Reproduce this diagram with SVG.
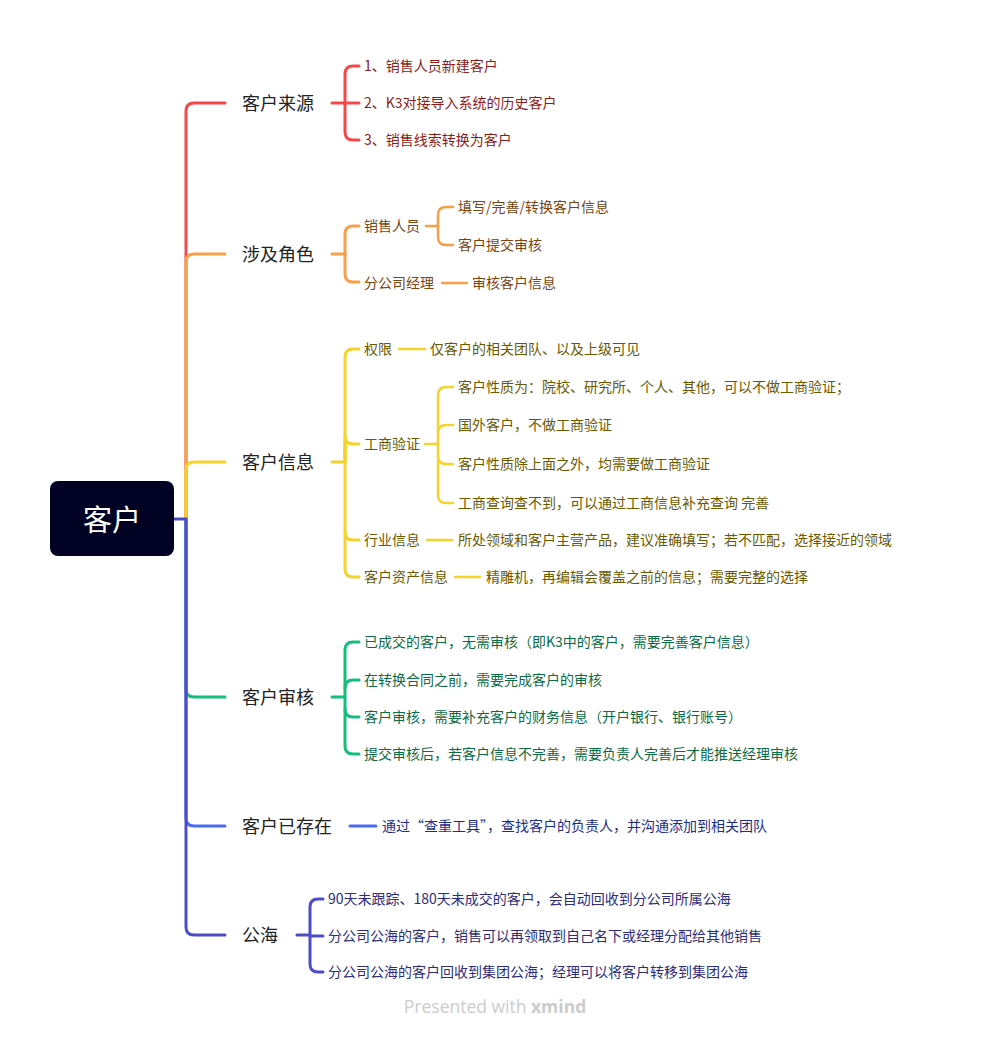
<svg xmlns="http://www.w3.org/2000/svg" width="990" height="1038" viewBox="0 0 990 1038">
<style>
text{font-family:"Noto Sans CJK SC","Liberation Sans",sans-serif;dominant-baseline:central}
.b{font-size:18px;fill:#222}
.s{font-size:14px}
.l{fill:none;stroke-width:3;stroke-linecap:round;stroke-linejoin:round}
.l2{fill:none;stroke-width:2.5;stroke-linecap:round;stroke-linejoin:round}
.red{stroke:#F5484A}.org{stroke:#F7A04A}.yel{stroke:#F5D22C}.grn{stroke:#14BE7C}.blu{stroke:#4A6CF4}.pur{stroke:#4D4DC6}
.tr{fill:#8A1C1C}.to{fill:#7A4511}.ty{fill:#6B5900}.tg{fill:#0B6B44}.tb{fill:#1B2D8A}.tp{fill:#2C2C7A}
</style>
<rect width="990" height="1038" fill="#fff"/>
<g id="connectors">
<path class="l red" d="M186,519 V111 Q186,103 194,103 H225"/>
<path class="l org" d="M186,519 V262 Q186,254 194,254 H225"/>
<path class="l yel" d="M186,519 V470 Q186,462 194,462 H225"/>
<path class="l grn" d="M186,519 V689 Q186,697 194,697 H225"/>
<path class="l blu" d="M186,519 V818 Q186,826 194,826 H225"/>
<path class="l pur" d="M174,519 H186 V927 Q186,935 194,935 H225"/>
<g class="l red">
<path d="M332,103 H345 V74 Q345,66 353,66 H359"/>
<path d="M345,103 H359"/>
<path d="M345,103 V132 Q345,140 353,140 H359"/>
</g>
<g class="l org">
<path d="M332,254 H345 V234 Q345,226 353,226 H359"/>
<path d="M345,254 V274 Q345,282 353,282 H359"/>
</g>
<g class="l2 org">
<path d="M426,226 H438 V215 Q438,207 446,207 H453"/>
<path d="M438,226 V237 Q438,245 446,245 H453"/>
<path d="M442,283 H467"/>
</g>
<g class="l yel">
<path d="M332,462 H345 V357 Q345,349 353,349 H359"/>
<path d="M345,462 V436 Q345,444 353,444 H359"/>
<path d="M345,444 V532 Q345,540 353,540 H359"/>
<path d="M345,532 V569 Q345,577 353,577 H359"/>
</g>
<g class="l2 yel">
<path d="M399,349 H425"/>
<path d="M425,444 H438 V395 Q438,387 446,387 H453"/>
<path d="M438,433 Q438,425 446,425 H453"/>
<path d="M438,444 V456 Q438,464 446,464 H453"/>
<path d="M438,456 V495 Q438,503 446,503 H453"/>
<path d="M427,540 H452"/>
<path d="M455,577 H480"/>
</g>
<g class="l grn">
<path d="M332,697 H345 V650 Q345,642 353,642 H359"/>
<path d="M345,688 Q345,680 353,680 H359"/>
<path d="M345,697 V709 Q345,717 353,717 H359"/>
<path d="M345,709 V746 Q345,754 353,754 H359"/>
</g>
<path class="l blu" d="M350,826 H376"/>
<g class="l pur">
<path d="M297,935 H310 V907 Q310,899 318,899 H323"/>
<path d="M310,936 H323"/>
<path d="M310,935 V964 Q310,972 318,972 H323"/>
</g>
</g>
<g id="root">
<rect x="50" y="481" width="124" height="75" rx="8" fill="#020224"/>
<text x="112" y="518" text-anchor="middle" font-size="29" fill="#fff">客户</text>
</g>
<g id="n-source" transform="translate(0,-1)">
<text class="b" x="242" y="103">客户来源</text>
<text class="s tr" x="364" y="66">1、销售人员新建客户</text>
<text class="s tr" x="364" y="103">2、K3对接导入系统的历史客户</text>
<text class="s tr" x="364" y="140">3、销售线索转换为客户</text>
</g>
<g id="n-roles" transform="translate(0,-1)">
<text class="b" x="242" y="254">涉及角色</text>
<text class="s to" x="364" y="226">销售人员</text>
<text class="s to" x="458" y="207">填写/完善/转换客户信息</text>
<text class="s to" x="458" y="245">客户提交审核</text>
<text class="s to" x="364" y="283">分公司经理</text>
<text class="s to" x="472" y="283">审核客户信息</text>
</g>
<g id="n-info" transform="translate(0,-1)">
<text class="b" x="242" y="462">客户信息</text>
<text class="s ty" x="364" y="349">权限</text>
<text class="s ty" x="430" y="349">仅客户的相关团队、以及上级可见</text>
<text class="s ty" x="364" y="444">工商验证</text>
<text class="s ty" x="458" y="387">客户性质为：院校、研究所、个人、其他，可以不做工商验证；</text>
<text class="s ty" x="458" y="425">国外客户，不做工商验证</text>
<text class="s ty" x="458" y="464">客户性质除上面之外，均需要做工商验证</text>
<text class="s ty" x="458" y="503">工商查询查不到，可以通过工商信息补充查询 完善</text>
<text class="s ty" x="364" y="540">行业信息</text>
<text class="s ty" x="458" y="540">所处领域和客户主营产品，建议准确填写；若不匹配，选择接近的领域</text>
<text class="s ty" x="364" y="577">客户资产信息</text>
<text class="s ty" x="486" y="577">精雕机，再编辑会覆盖之前的信息；需要完整的选择</text>
</g>
<g id="n-audit" transform="translate(0,-1)">
<text class="b" x="242" y="697">客户审核</text>
<text class="s tg" x="364" y="642">已成交的客户，无需审核（即K3中的客户，需要完善客户信息）</text>
<text class="s tg" x="364" y="680">在转换合同之前，需要完成客户的审核</text>
<text class="s tg" x="364" y="717">客户审核，需要补充客户的财务信息（开户银行、银行账号）</text>
<text class="s tg" x="364" y="754">提交审核后，若客户信息不完善，需要负责人完善后才能推送经理审核</text>
</g>
<g id="n-exists" transform="translate(0,-1)">
<text class="b" x="242" y="826">客户已存在</text>
<text class="s tb" x="382" y="826">通过“查重工具”，查找客户的负责人，并沟通添加到相关团队</text>
</g>
<g id="n-sea" transform="translate(0,-1)">
<text class="b" x="242" y="935">公海</text>
<text class="s tp" x="328" y="899">90天未跟踪、180天未成交的客户，会自动回收到分公司所属公海</text>
<text class="s tp" x="328" y="936">分公司公海的客户，销售可以再领取到自己名下或经理分配给其他销售</text>
<text class="s tp" x="328" y="972">分公司公海的客户回收到集团公海；经理可以将客户转移到集团公海</text>
</g>
<text x="495" y="1006" text-anchor="middle" font-size="17.5" fill="#cccccc" style="font-family:'Open Sans','Liberation Sans',sans-serif">Presented with <tspan font-weight="bold">xmind</tspan></text>
</svg>
